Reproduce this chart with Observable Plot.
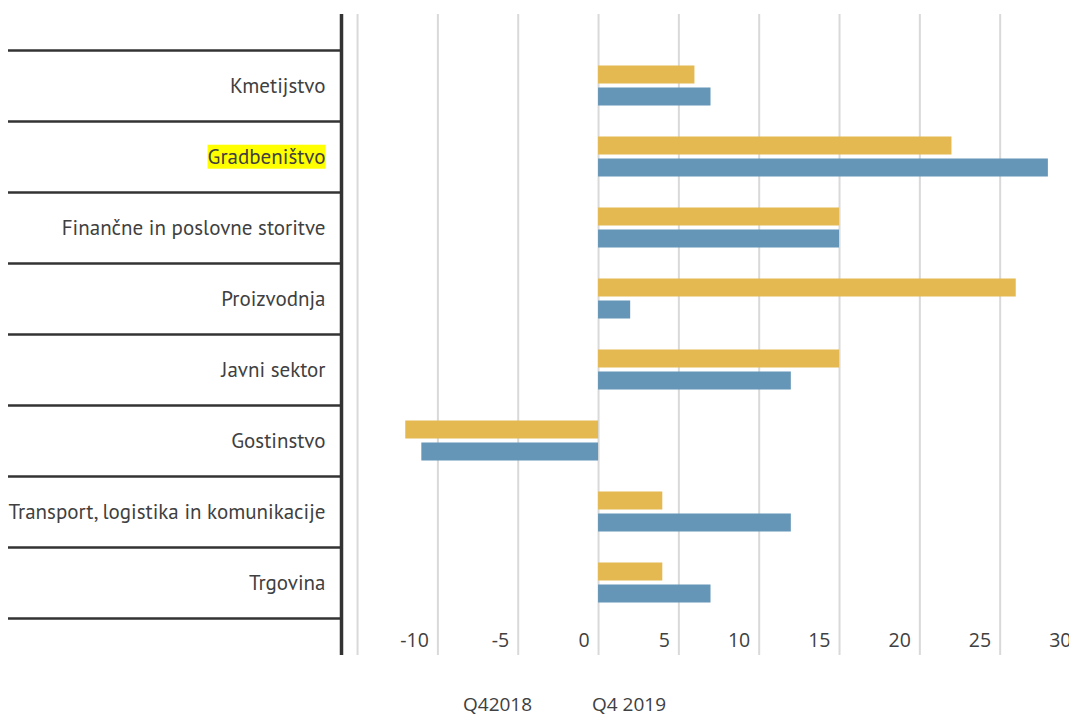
<!DOCTYPE html>
<html>
<head>
<meta charset="utf-8">
<script src="https://cdn.jsdelivr.net/npm/d3@7"></script>
<script src="https://cdn.jsdelivr.net/npm/@observablehq/plot@0.6"></script>
<style>
  html, body { margin: 0; padding: 0; background: #fff; overflow: hidden; }
  #chart svg { display: block; max-width: none !important; }
  #legend { position: relative; height: 46px; font-family: "Open Sans", sans-serif; font-size: 19px; color: #404040; }
  #legend span { position: absolute; top: 26px; line-height: 20px; white-space: nowrap; }
</style>
</head>
<body>
<div id="chart"></div>
<div id="legend"></div>
<script>
const categories = [
  "Kmetijstvo",
  "Gradbeništvo",
  "Finančne in poslovne storitve",
  "Proizvodnja",
  "Javni sektor",
  "Gostinstvo",
  "Transport, logistika in komunikacije",
  "Trgovina"
];
const seriesNames = ["Q42018", "Q4 2019"];
const q42018 = [7, 28, 15, 2, 12, -11, 12, 7];
const q42019 = [6, 22, 15, 26, 15, -12, 4, 4];
const highlighted = "Gradbeništvo";

const xDomain = [-16, 30];
const gridTicks = [-15, -10, -5, 0, 5, 10, 15, 20, 25, 30];
const labelTicks = [-10, -5, 0, 5, 10, 15, 20, 25, 30];

const blue = "#6596b7";
const yellow = "#e4b952";

const rows2018 = categories.map((c, i) => ({category: c, series: seriesNames[0], value: q42018[i]}));
const rows2019 = categories.map((c, i) => ({category: c, series: seriesNames[1], value: q42019[i]}));

const sepStyle = {tickSize: 333, text: null, label: null, stroke: "#333", strokeWidth: 2.5, strokeOpacity: 1};

const chart = Plot.plot({
  width: 1085,
  height: 668,
  marginLeft: 341,
  marginRight: 5,
  marginTop: 14,
  marginBottom: 13,
  style: {background: "#fff", overflow: "visible", maxWidth: "none"},
  x: {domain: xDomain, axis: null, label: null},
  y: {domain: categories, padding: 0, insetTop: 36, insetBottom: 37, axis: null, label: null},
  marks: [
    Plot.gridX(gridTicks, {stroke: "#d9d9d9", strokeOpacity: 1, strokeWidth: 2}),
    Plot.barX(rows2019, {x: "value", y: "category", fill: yellow, insetTop: 15.5, insetBottom: 37.5}),
    Plot.barX(rows2018, {x: "value", y: "category", fill: blue, insetTop: 37.5, insetBottom: 15.5}),
    Plot.ruleX([xDomain[0]], {stroke: "#333", strokeWidth: 3.5}),
    Plot.axisY({...sepStyle, dy: -35.5}),
    Plot.axisY([categories[categories.length - 1]], {...sepStyle, dy: 35.5}),
    Plot.axisY({tickSize: 0, tickPadding: 16, fontSize: 21, fill: "#404040", label: null,
      fontFamily: "'Liberation Sans Narrow', 'PT Sans', Roboto, sans-serif"}),
    Plot.axisX(labelTicks, {anchor: "bottom", tickSize: 0, tickPadding: 0, textAnchor: "end", label: null,
      dx: -9, dy: -22, fontSize: 19.5, fill: "#404040", fontFamily: "'Open Sans', sans-serif",
      tickFormat: d => String(d)})
  ]
});

document.getElementById("chart").appendChild(chart);

// highlight background behind the chosen category label
d3.select(chart).selectAll("text").each(function() {
  if (this.textContent === highlighted) {
    const b = this.getBBox();
    d3.select(this.parentNode).insert("rect", () => this)
      .attr("x", b.x).attr("y", b.y + 2).attr("width", b.width).attr("height", b.height - 3)
      .attr("fill", "#ffff00")
      .attr("transform", this.getAttribute("transform"));
  }
});

const legend = document.getElementById("legend");
const legendLeft = [463, 592];
seriesNames.forEach((s, i) => {
  const span = document.createElement("span");
  span.textContent = s;
  span.style.left = legendLeft[i] + "px";
  legend.appendChild(span);
});
</script>
</body>
</html>
